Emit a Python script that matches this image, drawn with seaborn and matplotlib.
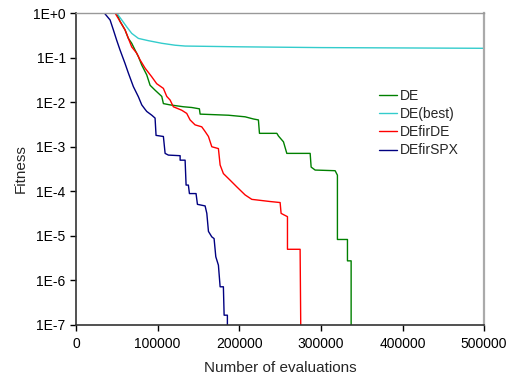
import pandas as pd
import matplotlib
matplotlib.use("Agg")
import matplotlib.pyplot as plt
import seaborn as sns

# curve points (evaluations, fitness)
de_x = [49800, 53900, 60000, 64100, 68200, 72300, 76400, 80500, 86600, 90700,
        96800, 105000, 107000, 115200, 131500, 141800, 151100, 152000, 186700,
        207100, 217300, 223400, 224700, 246000, 248000, 254100, 258200, 286800,
        288000, 292900, 317400, 320200, 320200, 332500, 332500, 337000, 337000]
de_y = [1.0, 0.65, 0.42, 0.27, 0.21, 0.148, 0.105, 0.068, 0.041, 0.024,
        0.0186, 0.0135, 0.0093, 0.0087, 0.0079, 0.0076, 0.0071, 0.0054, 0.0051,
        0.0047, 0.0042, 0.0040, 0.0020, 0.0020, 0.00174, 0.00129, 0.00071,
        0.00071, 0.00035, 0.0003, 0.00029, 0.00023, 8.3e-6, 8.3e-6, 2.75e-6,
        2.75e-6, 1e-8]

best_x = [49800, 56000, 62100, 68200, 76400, 88700, 105000, 121300, 133600,
          200000, 300000, 400000, 500000]
best_y = [1.0, 0.70, 0.49, 0.35, 0.27, 0.24, 0.21, 0.19, 0.182, 0.175, 0.168,
          0.165, 0.162]

firde_x = [47800, 53900, 60000, 64100, 68200, 74300, 78400, 84600, 92800,
           98800, 107000, 111100, 115200, 119200, 129500, 135600, 139700,
           145800, 154000, 158100, 162200, 166300, 174400, 176500, 180500,
           188700, 196900, 207100, 215300, 237700, 250000, 251200, 254100,
           259000, 259000, 274500, 275700]
firde_y = [1.0, 0.65, 0.42, 0.27, 0.174, 0.126, 0.089, 0.058, 0.037, 0.026,
           0.0204, 0.0135, 0.0112, 0.0079, 0.0066, 0.0056, 0.0040, 0.0031,
           0.0028, 0.0022, 0.0017, 0.0010, 0.00091, 0.00039, 0.00025, 0.000178,
           0.000126, 8.3e-5, 6.6e-5, 5.9e-5, 5.6e-5, 3.2e-5, 3.0e-5, 2.7e-5,
           5.0e-6, 5.0e-6, 1e-8]

firspx_x = [34700, 41700, 45700, 49800, 53900, 60000, 64100, 70200, 76400,
            80500, 84600, 86600, 92800, 96800, 98000, 107000, 109100, 113100,
            127500, 127500, 133600, 134800, 137600, 138900, 147000, 148700,
            158100, 160200, 162200, 166300, 169100, 171200, 174400, 176500,
            180500, 181400, 185400, 185400]
firspx_y = [1.0, 0.70, 0.42, 0.245, 0.148, 0.074, 0.045, 0.0224, 0.0132,
            0.0087, 0.0069, 0.0062, 0.0051, 0.0044, 0.0018, 0.0017, 0.00071,
            0.00065, 0.00063, 0.0005, 0.0005, 0.000138, 0.000138, 8.9e-5,
            8.9e-5, 5.1e-5, 4.7e-5, 3.2e-5, 1.26e-5, 9.5e-6, 8.7e-6, 3.4e-6,
            2.2e-6, 7.2e-7, 7.2e-7, 1.66e-7, 1.66e-7, 1e-8]

series = ["DE", "DE(best)", "DEfirDE", "DEfirSPX"]
colors = ["#008000", "#33cccc", "#ff0000", "#000080"]

frames = []
for name, xs, ys in zip(series, [de_x, best_x, firde_x, firspx_x],
                        [de_y, best_y, firde_y, firspx_y]):
    frames.append(pd.DataFrame({"evals": xs, "fitness": ys, "alg": name}))
df = pd.concat(frames, ignore_index=True)

sns.set_style("white")
plt.rcParams["font.family"] = ["Liberation Sans", "DejaVu Sans"]

fig = plt.figure(figsize=(5.07, 3.79), dpi=100)
ax = fig.add_axes([0.150, 0.1425, 0.805, 0.823])

sns.lineplot(data=df, x="evals", y="fitness", hue="alg", hue_order=series,
             palette=colors, sort=False, estimator=None, linewidth=1.0, ax=ax)

ax.set_yscale("log")
ax.set_ylim(1e-7, 1)
ax.set_xlim(0, 500000)
ax.set_xticks([0, 100000, 200000, 300000, 400000, 500000])
ax.set_xticklabels(["0", "100000", "200000", "300000", "400000", "500000"])
yt = [1e-7, 1e-6, 1e-5, 1e-4, 1e-3, 1e-2, 1e-1, 1]
ax.set_yticks(yt)
ax.set_yticklabels(["1E-7", "1E-6", "1E-5", "1E-4", "1E-3", "1E-2", "1E-1", "1E+0"])
ax.minorticks_off()
ax.tick_params(axis="both", direction="out", length=4, width=1, colors="black",
               labelsize=10, left=True, bottom=True)
ax.tick_params(axis="x", pad=5)
ax.set_xlabel("Number of evaluations", fontsize=11, labelpad=7)
ax.set_ylabel("Fitness", fontsize=11)

for s in ["left", "bottom"]:
    ax.spines[s].set_color("#333333")
    ax.spines[s].set_linewidth(1.2)
ax.spines["top"].set_color("#999999")
ax.spines["top"].set_linewidth(1.0)
ax.spines["right"].set_color("#aaaaaa")
ax.spines["right"].set_linewidth(1.6)

leg = ax.legend(loc="upper left", bbox_to_anchor=(0.743, 0.757), frameon=False,
                fontsize=10, handlelength=1.3, handletextpad=0.2,
                labelspacing=0.3, borderpad=0, borderaxespad=0)

fig.savefig("out.png", dpi=100)
